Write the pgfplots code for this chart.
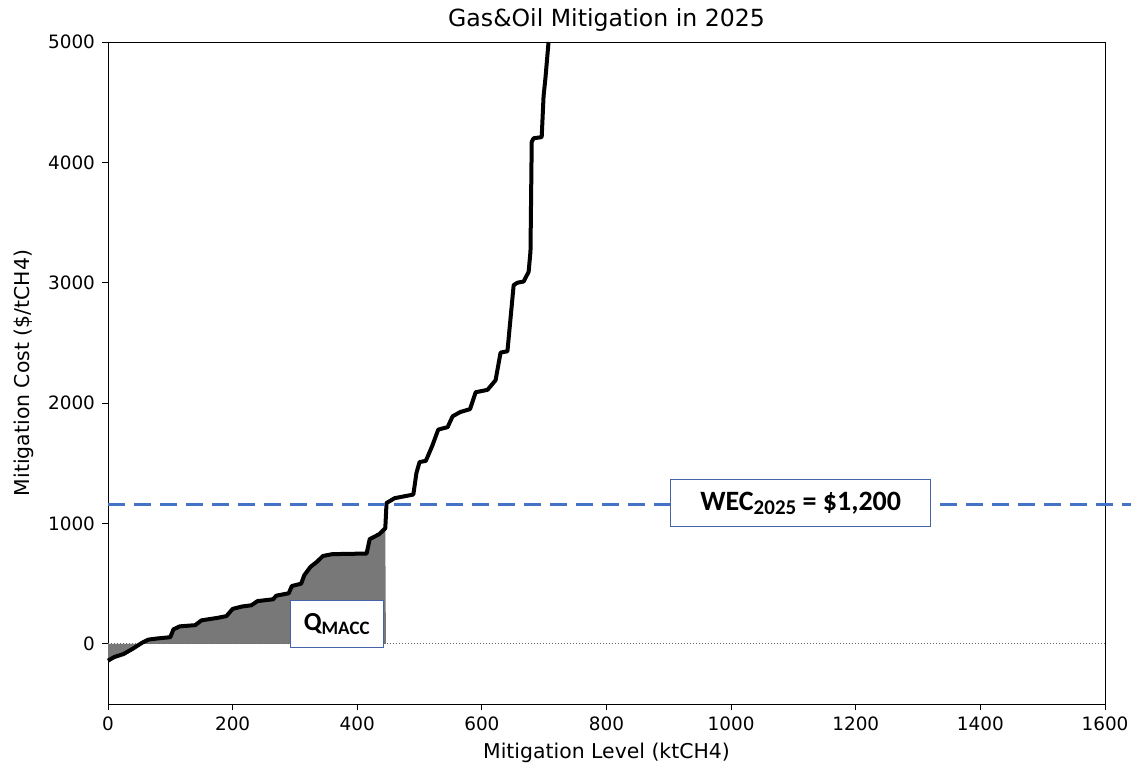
\documentclass[border=0pt]{standalone}
\usepackage{pgfplots}
\pgfplotsset{compat=1.18}
\usepackage{fontspec}
\setmainfont{DejaVu Sans}
\newfontfamily\calib{Carlito}
\definecolor{wecblue}{RGB}{68,114,196}
\definecolor{boxblue}{RGB}{70,100,170}
\definecolor{shade}{RGB}{120,120,120}
\begin{document}
\begin{tikzpicture}
\path[use as bounding box] (-54pt,-33pt) rectangle (512.5pt,352pt);
\begin{axis}[
  at={(0,0)}, anchor=south west,
  scale only axis, width=498.5pt, height=331pt,
  xmin=0, xmax=1600, ymin=-500, ymax=5000,
  xtick={0,200,...,1600}, ytick={0,1000,...,5000},
  xtick pos=bottom, ytick pos=left,
  tick align=outside, major tick length=3pt,
  tick style={black, line width=0.4pt},
  axis line style={line width=0.5pt},
  /pgf/number format/assume math mode=true,
  /pgf/number format/set thousands separator={},
  tick label style={font=\fontsize{9.2}{11}\selectfont},
  label style={font=\fontsize{10.2}{12}\selectfont},
  xlabel style={yshift=1pt},
  ylabel style={yshift=0.5pt},
  title style={font=\fontsize{11.8}{14}\selectfont, yshift=-4pt},
  title={Gas\&Oil Mitigation in 2025},
  xlabel={Mitigation Level (ktCH4)},
  ylabel={Mitigation Cost (\$/tCH4)},
  clip=false,
]
% shaded area up to Q_MACC
\addplot[fill=shade, draw=none] coordinates {
(0,0) (0,-140) (10,-110) (25,-85) (40,-40) (55,10) (65,35) (80,45) (100,55)
(105,120) (115,145) (140,155) (150,195) (175,215) (190,230) (200,290)
(215,310) (230,320) (240,355) (265,370) (270,400) (290,420) (295,480)
(310,500) (315,570) (325,640) (335,680) (345,730) (360,745) (415,750)
(420,870) (435,910) (445,960) (446,0)
} \closedcycle;
% zero line
\addplot[gray!80!black, densely dotted, line width=0.5pt] coordinates {(0,0) (1600,0)};
% MACC curve
\addplot[black, line width=2pt, line join=round] coordinates {
(0,-140) (10,-110) (25,-85) (40,-40) (55,10) (65,35) (80,45) (100,55)
(105,120) (115,145) (140,155) (150,195) (175,215) (190,230) (200,290)
(215,310) (230,320) (240,355) (265,370) (270,400) (290,420) (295,480)
(310,500) (315,570) (325,640) (335,680) (345,730) (360,745) (415,750)
(420,870) (435,910) (445,960) (447,1170) (460,1210) (480,1230) (490,1240)
(495,1420) (500,1510) (510,1520) (520,1640) (530,1780) (545,1800)
(553,1890) (565,1925) (581,1950) (590,2090) (609,2110) (622,2190)
(630,2420) (641,2430) (651,2980) (657,3000) (667,3010) (675,3090)
(678,3260) (680,4170) (683,4200) (696,4210) (699,4550) (702,4700) (707,5000)
};
% WEC line
\addplot[wecblue, line width=1.5pt, dash pattern=on 8.5pt off 4.5pt] coordinates {(0,1160) (1642,1160)};
\node[draw=boxblue, line width=0.6pt, fill=white, minimum width=46.5pt, minimum height=23.5pt, inner sep=0pt]
  at (axis cs:367,162) {\calib\fontsize{13}{14}\selectfont\bfseries Q\raisebox{-0.35ex}{\fontsize{9.5}{10}\selectfont MACC}};
\node[draw=boxblue, line width=0.6pt, fill=white, minimum width=130pt, minimum height=23.5pt, inner sep=0pt]
  at (axis cs:1111.6,1167) {\calib\fontsize{14}{15}\selectfont\bfseries WEC\raisebox{-0.35ex}{\fontsize{10.5}{11}\selectfont 2025} = \$1,200};
\end{axis}
\end{tikzpicture}
\end{document}
